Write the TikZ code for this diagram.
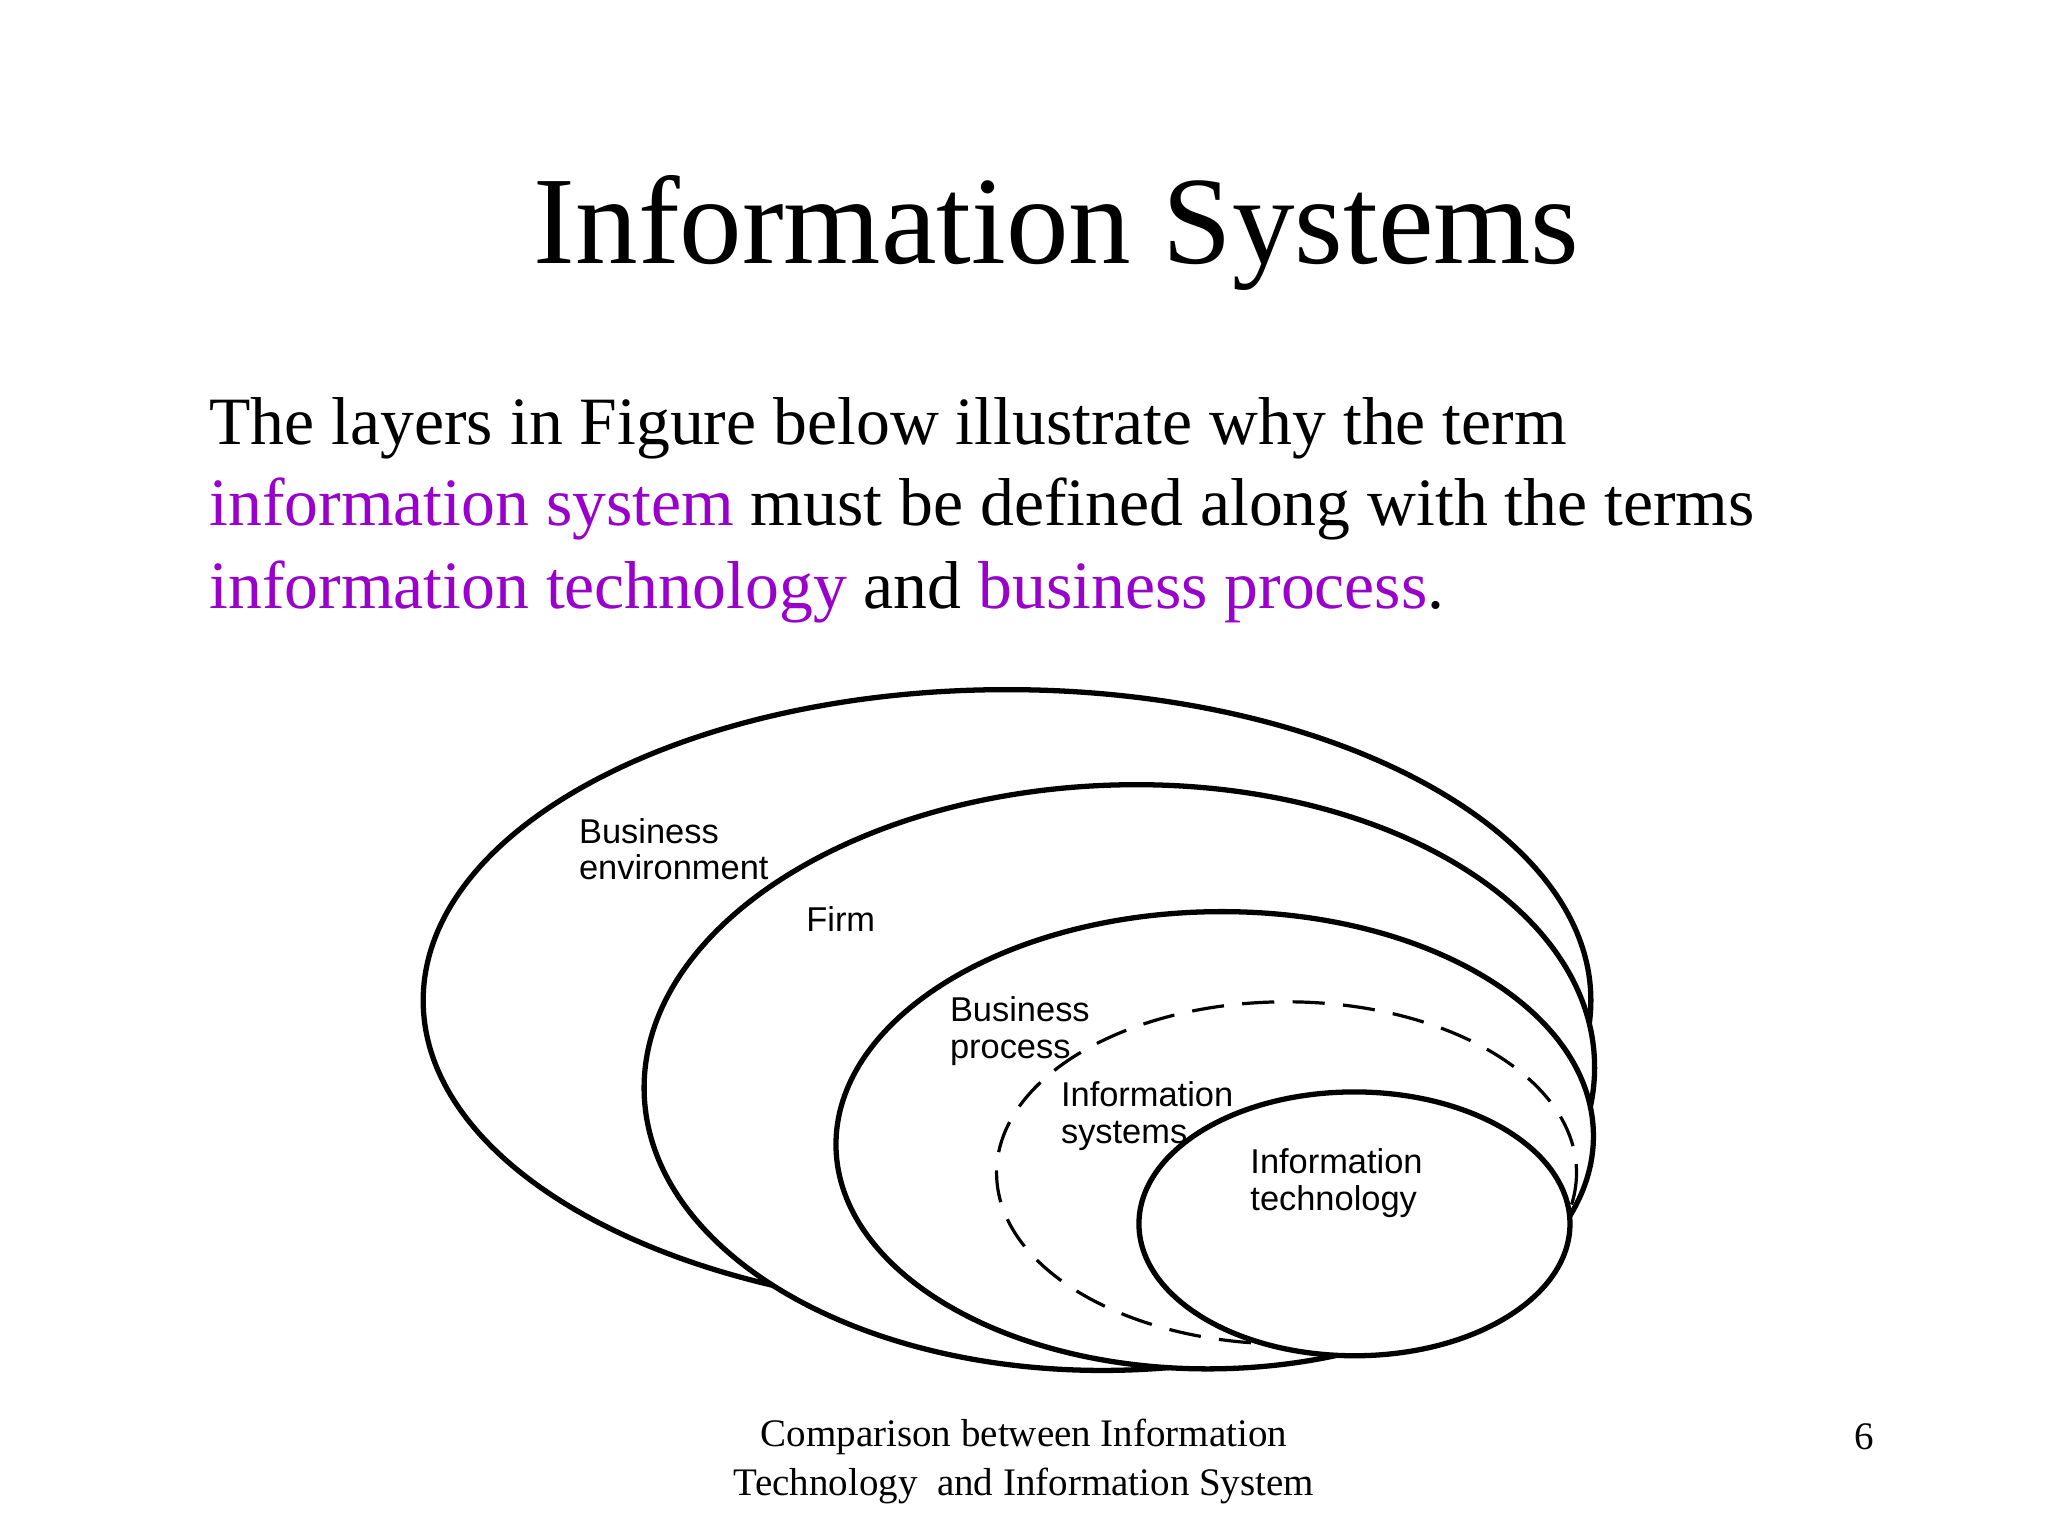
\documentclass[tikz,border=0pt]{standalone}
\usepackage{fontspec}
\setmainfont{Liberation Serif}
\newfontfamily\lblfont{Liberation Sans}
\definecolor{kw}{RGB}{153,0,204}
\begin{document}
\begin{tikzpicture}[x=0.02cm,y=-0.02cm,
  ring/.style={draw,fill=white,line width=2.3pt},
  lbl/.style={font=\lblfont\fontsize{15}{16}\selectfont,align=left,anchor=north west,inner sep=0pt},
  body/.style={font=\fontsize{29.5}{36}\selectfont,anchor=west,inner sep=0pt},
  foot/.style={font=\fontsize{17}{21}\selectfont,inner sep=0pt}]
\useasboundingbox (0,0) rectangle (1568,1176);
\node[font=\fontsize{54.5}{60}\selectfont,inner sep=0pt] (title) at (809,178) {Information Systems};
\node[body] (l1) at (160,328) {The layers in Figure below illustrate why the term};
\node[body] (l2) at (160,390) {\textcolor{kw}{information system} must be defined along with the terms};
\node[body] (l3) at (160,453) {\textcolor{kw}{information technology} and \textcolor{kw}{business process}.};
\draw[ring] (771,766) ellipse [x radius=447, y radius=238];
\draw[ring,rotate around={2:(857,825)}] (857,825) ellipse [x radius=364, y radius=224];
\draw[ring,rotate around={1:(930,873)}] (930,873) ellipse [x radius=290, y radius=175];
\draw[fill=white,line width=1.4pt,dash pattern=on 14pt off 8pt] (985,898) ellipse [x radius=222, y radius=131];
\draw[ring] (1037,937) ellipse [x radius=165, y radius=101];
\node[lbl] (be) at (443,626) {Business\\environment};
\node[lbl] (firm) at (617,694) {Firm};
\node[lbl] (bp) at (727,763) {Business\\process};
\node[lbl] (is) at (812,828) {Information\\systems};
\node[lbl] (it) at (957,879) {Information\\technology};
\node[foot,align=center] (ft) at (784,1119) {Comparison between Information\\Technology\ \ and Information System};
\node[foot] (pg) at (1427,1100) {6};
\end{tikzpicture}
\end{document}
